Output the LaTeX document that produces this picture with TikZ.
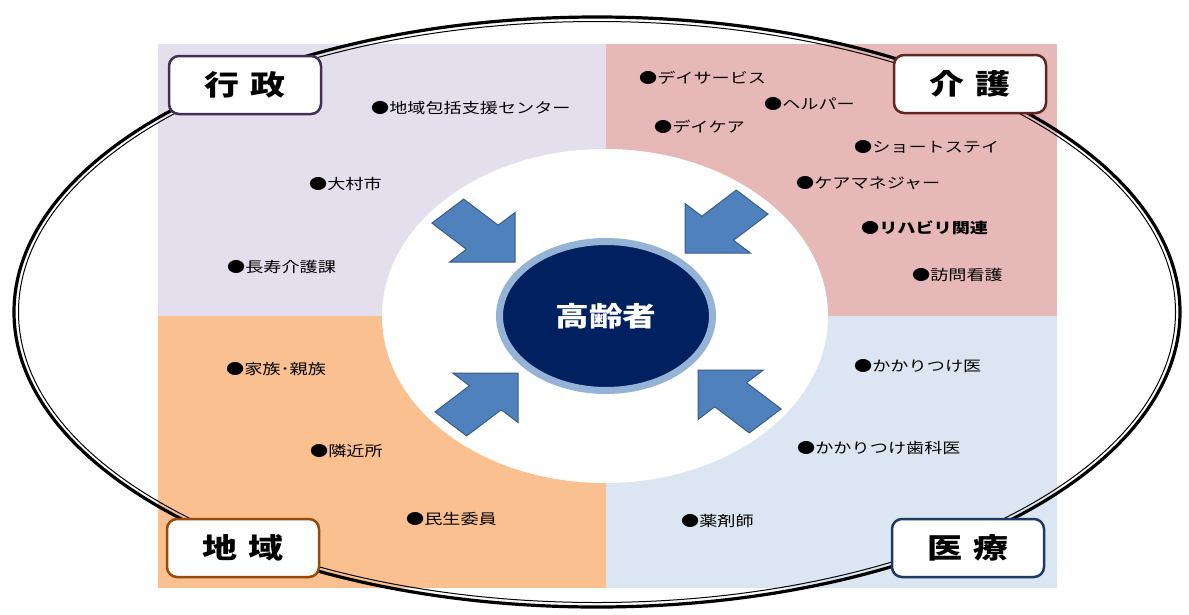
\documentclass[tikz,border=0pt]{standalone}
\usepackage{fontspec}
\newfontfamily\jp{Noto Sans CJK JP}
\newfontfamily\jpheavy{Noto Sans CJK JP Black}
\usetikzlibrary{shapes.geometric}
\definecolor{gyoseibg}{HTML}{E4DFEC}
\definecolor{kaigobg}{HTML}{E6B9B8}
\definecolor{chiikibg}{HTML}{FAC090}
\definecolor{iryobg}{HTML}{DCE6F2}
\definecolor{gyoseiline}{HTML}{403152}
\definecolor{kaigoline}{HTML}{632523}
\definecolor{chiikiline}{HTML}{984807}
\definecolor{iryoline}{HTML}{1F3864}
\definecolor{elderfill}{HTML}{002060}
\definecolor{elderring}{HTML}{95B3D7}
\definecolor{arrowfill}{HTML}{4F81BD}
\definecolor{arrowline}{HTML}{385D8A}
\newcommand{\wide}[1]{\scalebox{1.25}[1]{#1}}
\tikzset{
  tag/.style={rectangle, draw=#1, line width=2.5pt, fill=white, rounded corners=10pt,
    minimum width=152pt, minimum height=58pt, inner sep=0pt,
    font=\jpheavy\fontsize{28}{30}\selectfont},
  item/.style={anchor=west, inner sep=0pt, font=\jp\fontsize{14.5}{16}\selectfont},
  blockarrow/.style={fill=arrowfill, draw=arrowline, line width=1pt}
}
\newcommand{\blockarrow}[2]{\draw[blockarrow, shift={#1}, xscale=1.32, rotate=#2]
  (0,0) -- (-35,35) -- (-35,17) -- (-72,17) -- (-72,-17) -- (-35,-17) -- (-35,-35) -- cycle;}
\begin{document}
\begin{tikzpicture}[x=1pt,y=-1pt]
\useasboundingbox[fill=white] (0,0) rectangle (1189,614);

% quadrants
\fill[gyoseibg] (158,44) rectangle (606,316);
\fill[kaigobg] (606,44) rectangle (1057,316);
\fill[chiikibg] (158,316) rectangle (606,588);
\fill[iryobg] (606,316) rectangle (1057,588);

% outer ring (thick-thin line)
\draw[line width=3.2pt] (597,312) ellipse [x radius=583pt, y radius=295pt];
\draw[line width=1pt] (597,312) ellipse [x radius=578.5pt, y radius=290.5pt];

% centre
\node[ellipse, fill=white, minimum width=446pt, minimum height=334pt] (hub) at (605,316) {};
\node[ellipse, fill=elderfill, draw=elderring, line width=7pt, minimum width=213pt,
  minimum height=149pt, text=white, font=\jp\bfseries\fontsize{27}{29}\selectfont]
  (elder) at (606,316) {\wide{高齢者}};

% arrows
\blockarrow{(515,262)}{-45}
\blockarrow{(685,253)}{-135}
\blockarrow{(518,373)}{45}
\blockarrow{(698,370)}{135}

% items
\node[item] (center) at (371,108) {\wide{●地域包括支援センター}};
\node[item] (omura) at (309,184) {\wide{●大村市}};
\node[item] (choju) at (227,267) {\wide{●長寿介護課}};

\node[item] (dayservice) at (639,78) {\wide{●デイサービス}};
\node[item] (helper) at (764,104) {\wide{●ヘルパー}};
\node[item] (daycare) at (654,127) {\wide{●デイケア}};
\node[item] (shortstay) at (854,147) {\wide{●ショートステイ}};
\node[item] (caremanager) at (796,183) {\wide{●ケアマネジャー}};
\node[item, font=\jp\bfseries\fontsize{14.5}{16}\selectfont] (rehab) at (861,228) {\wide{●リハビリ関連}};
\node[item] (homenursing) at (912,275) {\wide{●訪問看護}};

\node[item] (family) at (226,369) {\wide{●家族･親族}};
\node[item] (neighbour) at (310,451) {\wide{●隣近所}};
\node[item] (minsei) at (406,519) {\wide{●民生委員}};

\node[item] (doctor) at (854,366) {\wide{●かかりつけ医}};
\node[item] (dentist) at (797,448) {\wide{●かかりつけ歯科医}};
\node[item] (pharmacist) at (681,521) {\wide{●薬剤師}};

% corner tags
\node[tag=gyoseiline] (gyosei) at (245,85) {\wide{行\hspace{0.3em}政}};
\node[tag=kaigoline] (kaigo) at (970,84) {\wide{介\hspace{0.3em}護}};
\node[tag=chiikiline] (chiiki) at (243,548) {\wide{地\hspace{0.3em}域}};
\node[tag=iryoline] (iryo) at (968,548) {\wide{医\hspace{0.3em}療}};
\end{tikzpicture}
\end{document}
